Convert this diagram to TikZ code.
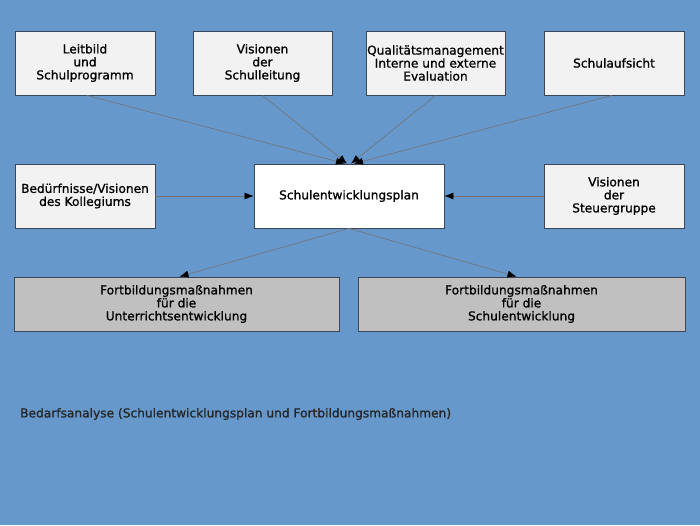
\documentclass[tikz,border=0pt]{standalone}
\usepackage{fontspec}
\setmainfont{DejaVu Sans}[FakeBold=1]
\usetikzlibrary{arrows.meta}
\definecolor{hintergrund}{RGB}{102,152,204}
\definecolor{kasten}{RGB}{242,242,242}
\definecolor{massnahme}{RGB}{192,192,192}
\definecolor{rand}{RGB}{60,70,85}
\tikzset{
  feld/.style={draw=rand, line width=0.8pt, fill=kasten, align=center,
    inner sep=0pt, font=\fontsize{12.2}{13}\selectfont},
  pfeil/.style={-{Latex[length=9pt,width=7pt,color=black]}, draw=black!55, line width=0.6pt}
}
\begin{document}
\begin{tikzpicture}[x=1pt,y=-1pt]
  \fill[hintergrund] (0,0) rectangle (700,525);
  \useasboundingbox (0,0) rectangle (700,525);
  % obere Reihe
  \node[feld, minimum width=140pt, minimum height=64pt] (leitbild) at (85,63) {Leitbild\\und\\Schulprogramm};
  \node[feld, minimum width=139pt, minimum height=64pt] (schulleitung) at (262.5,63) {Visionen\\der\\Schulleitung};
  \node[feld, minimum width=139pt, minimum height=64pt] (qualitaet) at (435.5,63) {Qualitätsmanagement\\Interne und externe\\Evaluation};
  \node[feld, minimum width=140pt, minimum height=64pt] (aufsicht) at (614,63) {Schulaufsicht};
  % mittlere Reihe
  \node[feld, minimum width=140pt, minimum height=64pt] (kollegium) at (85,196) {Bedürfnisse/Visionen\\des Kollegiums};
  \node[feld, fill=white, minimum width=190pt, minimum height=64pt] (plan) at (349,196) {Schulentwicklungsplan};
  \node[feld, minimum width=140pt, minimum height=64pt] (steuergruppe) at (614,196) {Visionen\\der\\Steuergruppe};
  % untere Reihe
  \node[feld, fill=massnahme, minimum width=325pt, minimum height=54pt] (unterricht) at (176.5,304) {Fortbildungsmaßnahmen\\für die\\Unterrichtsentwicklung};
  \node[feld, fill=massnahme, minimum width=327pt, minimum height=54pt] (schule) at (521.5,304) {Fortbildungsmaßnahmen\\für die\\Schulentwicklung};
  % Pfeile
  \draw[pfeil] ([xshift=2pt]leitbild.south) -- ([xshift=-4pt]plan.north);
  \draw[pfeil] (schulleitung.south) -- ([xshift=-2pt]plan.north);
  \draw[pfeil] (qualitaet.south) -- ([xshift=2pt]plan.north);
  \draw[pfeil] ([xshift=-2pt]aufsicht.south) -- ([xshift=5pt]plan.north);
  \draw[pfeil] (kollegium.east) -- (plan.west);
  \draw[pfeil] (steuergruppe.west) -- (plan.east);
  \draw[pfeil] (plan.south) -- ([xshift=3pt]unterricht.north);
  \draw[pfeil] (plan.south) -- ([xshift=-5pt]schule.north);
  \node[anchor=west, inner sep=0pt, text=black!85, font=\fontsize{12.2}{13}\selectfont] (bedarf) at (20,414) {Bedarfsanalyse (Schulentwicklungsplan und Fortbildungsmaßnahmen)};
\end{tikzpicture}
\end{document}
